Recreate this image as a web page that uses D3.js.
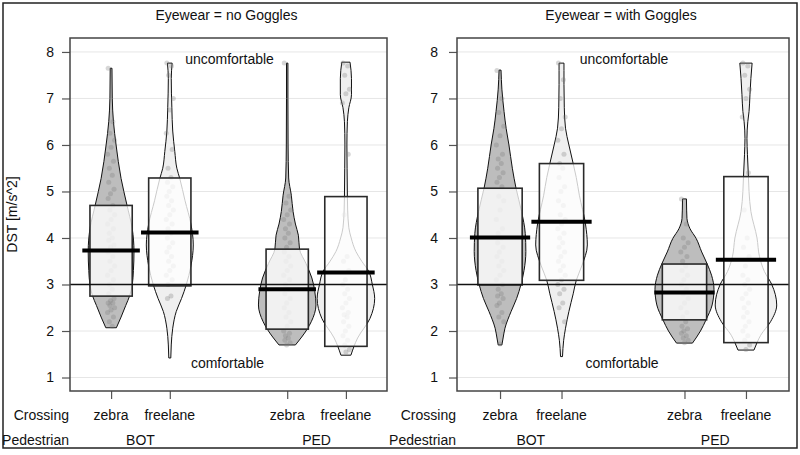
<!DOCTYPE html>
<html><head><meta charset="utf-8">
<script src="https://cdn.jsdelivr.net/npm/d3@7"></script>
<style>body{margin:0;background:#fff}text{font-family:"Liberation Sans",Arial,sans-serif;fill:#111}</style>
</head><body><svg id="c" width="800" height="455"></svg>
<script>
// ---- data ----
const panels = ["Eyewear = no Goggles", "Eyewear = with Goggles"];
const crossings = ["zebra", "freelane", "zebra", "freelane"];
const pedestrians = ["BOT", "PED"];
const groupPos = [1, 2, 4, 5];
const yTicks = [1, 2, 3, 4, 5, 6, 7, 8];
const refValue = 3;

const meansNo = [3.73, 4.12, 2.90, 3.26];
const meansWith = [4.01, 4.35, 2.83, 3.53];
const infLowNo = [2.75, 2.97, 2.04, 1.67];
const infHighNo = [4.70, 5.29, 3.76, 4.89];
const infLowWith = [2.99, 3.09, 2.24, 1.75];
const infHighWith = [5.07, 5.60, 3.44, 5.32];

// bean density profiles: [value, relative half-density]
const beanNo = [
  [[2.07,0.09],[2.3,0.17],[2.55,0.25],[2.77,0.32],[2.99,0.36],[3.3,0.38],[3.71,0.39],[4.2,0.36],[4.71,0.27],[5.28,0.17],[6.0,0.085],[6.5,0.04],[7.0,0.02],[7.65,0.015]],
  [[1.42,0.017],[1.7,0.025],[2.06,0.05],[2.42,0.11],[2.7,0.20],[2.99,0.28],[3.4,0.36],[3.85,0.40],[4.3,0.36],[4.8,0.26],[5.28,0.17],[5.5,0.12],[5.86,0.085],[6.3,0.05],[6.8,0.035],[7.43,0.025],[7.76,0.04]],
  [[1.70,0.14],[2.04,0.34],[2.2,0.41],[2.56,0.49],[2.85,0.47],[3.14,0.42],[3.45,0.32],[3.76,0.21],[4.06,0.19],[4.3,0.14],[4.57,0.10],[4.92,0.07],[5.29,0.025],[6.0,0.015],[7.0,0.012],[7.76,0.012]],
  [[1.48,0.085],[1.85,0.20],[2.27,0.41],[2.70,0.49],[3.0,0.45],[3.28,0.39],[3.5,0.27],[3.71,0.17],[4.0,0.09],[4.22,0.05],[4.6,0.03],[4.89,0.025],[5.5,0.02],[6.0,0.017],[6.5,0.025],[6.8,0.05],[7.08,0.095],[7.43,0.095],[7.78,0.07]]
];
const beanWith = [
  [[1.70,0.03],[1.85,0.05],[2.06,0.08],[2.42,0.18],[2.7,0.27],[3.0,0.34],[3.3,0.39],[3.71,0.42],[4.1,0.41],[4.57,0.35],[5.07,0.26],[5.5,0.2],[6.0,0.145],[6.35,0.1],[6.72,0.065],[7.2,0.03],[7.61,0.016]],
  [[1.45,0.016],[1.8,0.035],[2.06,0.065],[2.42,0.12],[2.8,0.19],[3.09,0.24],[3.4,0.33],[3.85,0.42],[4.3,0.39],[4.92,0.29],[5.3,0.24],[5.6,0.19],[6.0,0.12],[6.36,0.065],[6.8,0.045],[7.3,0.04],[7.6,0.04],[7.76,0.04]],
  [[1.74,0.13],[2.0,0.26],[2.24,0.35],[2.56,0.45],[2.9,0.48],[3.2,0.44],[3.44,0.37],[3.7,0.28],[3.99,0.19],[4.2,0.09],[4.42,0.04],[4.6,0.035],[4.84,0.032]],
  [[1.59,0.13],[1.75,0.18],[1.91,0.24],[2.2,0.40],[2.56,0.50],[3.0,0.42],[3.28,0.30],[3.6,0.22],[4.0,0.18],[4.57,0.08],[5.0,0.05],[5.32,0.04],[5.79,0.024],[6.14,0.016],[6.5,0.03],[6.72,0.05],[7.08,0.065],[7.43,0.08],[7.76,0.10]]
];

const pointsNo = [
  [7.65,6.5,6.25,6.1,5.95,5.8,5.65,5.5,5.35,5.2,5.05,4.95,4.85,4.7,4.6,4.5,4.4,4.3,4.2,4.1,4.0,3.95,3.85,3.8,3.7,3.6,3.5,3.4,3.3,3.2,3.1,3.0,2.9,2.8,2.7,2.65,2.6,2.6,2.55,2.5,2.45,2.4,2.3,2.2,2.1],
  [7.76,7.7,7.5,7.0,6.75,6.25,5.9,5.5,5.3,5.2,5.1,5.0,4.9,4.8,4.7,4.6,4.5,4.4,4.3,4.2,4.1,4.0,3.9,3.8,3.7,3.6,3.5,3.4,3.3,3.2,3.1,3.0,2.75,2.7],
  [7.76,4.9,4.75,4.6,4.5,4.4,4.3,4.2,4.1,4.0,3.9,3.8,3.7,3.6,3.5,3.4,3.3,3.2,3.1,3.0,2.9,2.8,2.7,2.6,2.5,2.4,2.3,2.2,2.1,2.0,1.95,1.9,1.85,1.8,1.75,1.7],
  [7.76,7.7,7.5,7.2,7.1,6.9,5.8,4.5,3.6,3.5,3.3,3.1,3.0,2.9,2.8,2.7,2.6,2.5,2.4,2.35,2.3,2.2,2.1,2.0,1.9,1.8,1.7,1.6,1.55]
];
const pointsWith = [
  [7.6,7.0,6.7,6.4,6.2,6.0,5.8,5.7,5.6,5.5,5.4,5.3,5.2,5.1,4.9,4.8,4.6,4.4,4.2,4.1,4.0,3.9,3.8,3.7,3.6,3.5,3.4,3.3,3.2,3.1,3.0,2.9,2.8,2.75,2.7,2.6,2.55,2.4,2.3,2.2,1.72],
  [7.76,7.4,7.0,6.6,6.35,6.1,5.8,5.6,5.5,5.3,5.1,5.0,4.8,4.7,4.5,4.4,4.3,4.2,4.1,4.0,3.9,3.8,3.7,3.6,3.5,3.4,3.3,3.2,3.1,3.0,2.9,2.8,2.6,2.5,2.2],
  [4.84,4.3,4.0,3.9,3.8,3.7,3.6,3.5,3.4,3.3,3.2,3.1,3.0,2.9,2.8,2.7,2.6,2.5,2.4,2.3,2.2,2.1,2.05,2.0,1.95,1.9,1.85,1.8,1.75],
  [7.76,7.7,7.5,7.2,7.0,6.6,5.4,4.6,4.0,3.8,3.6,3.4,3.2,3.1,3.0,2.9,2.8,2.7,2.6,2.5,2.4,2.3,2.2,2.1,2.0,1.9,1.8,1.7,1.6]
];

const panelData = [
  {title: panels[0], means: meansNo, lo: infLowNo, hi: infHighNo, beans: beanNo, pts: pointsNo},
  {title: panels[1], means: meansWith, lo: infLowWith, hi: infHighWith, beans: beanWith, pts: pointsWith}
];

// ---- layout / style ----
const frames = [{l: 70, r: 387}, {l: 457, r: 789}];
const plotTop = 38, plotBottom = 391;
const jitter = [-0.05, 0.03, -0.02, 0.06, 0.0, -0.06, 0.04, -0.03, 0.02, -0.04, 0.05, -0.01];
const beanFill = ["#bdbdbd", "#efefef", "#bdbdbd", "#efefef"];

const svg = d3.select("#c");
svg.append("rect").attr("x", 3).attr("y", 3).attr("width", 794).attr("height", 445)
  .attr("fill", "none").attr("stroke", "#222").attr("stroke-width", 1.5);

const y = d3.scaleLinear().domain([0.71, 8.30]).range([plotBottom, plotTop]);

panelData.forEach((P, pi) => {
  const f = frames[pi];
  const x = d3.scaleLinear().domain([0.3, 5.7]).range([f.l, f.r]);
  const g = svg.append("g");
  const cx = (f.l + f.r) / 2;

  g.append("text").attr("x", cx - 2).attr("y", 20).attr("text-anchor", "middle")
    .attr("font-size", 14).text(P.title);

  // grid
  g.selectAll(".grid").data(yTicks).join("line")
    .attr("x1", f.l).attr("x2", f.r).attr("y1", d => y(d)).attr("y2", d => y(d))
    .attr("stroke", "#e6e6e6").attr("stroke-width", 1);

  // y axis
  const ya = g.append("g").attr("transform", `translate(${f.l},0)`)
    .call(d3.axisLeft(y).tickValues(yTicks).tickSize(8).tickPadding(pi === 0 ? 8 : 11).tickFormat(d3.format("d")));
  ya.select(".domain").remove();
  ya.selectAll("line").attr("stroke", "#555").attr("stroke-width", 1.2);
  ya.selectAll("text").attr("font-size", 14).attr("font-family", '"Liberation Sans",Arial,sans-serif').attr("fill", "#111");

  // x axis ticks
  const xa = g.append("g").attr("transform", `translate(0,${plotBottom})`)
    .call(d3.axisBottom(x).tickValues(groupPos).tickSize(8).tickFormat(""));
  xa.select(".domain").remove();
  xa.selectAll("line").attr("stroke", "#555").attr("stroke-width", 1.2);

  // crossing labels
  g.selectAll(".cl").data(groupPos).join("text")
    .attr("x", d => x(d)).attr("y", 420).attr("text-anchor", "middle").attr("font-size", 14)
    .text((d, i) => crossings[i]);
  g.selectAll(".pl").data(pedestrians).join("text")
    .attr("x", (d, i) => x((groupPos[i * 2] + groupPos[i * 2 + 1]) / 2)).attr("y", 445)
    .attr("text-anchor", "middle").attr("font-size", 14).text(d => d);
  g.append("text").attr("x", f.l - 1).attr("y", 420).attr("text-anchor", "end").attr("font-size", 14).text("Crossing");
  g.append("text").attr("x", f.l - 1).attr("y", 445).attr("text-anchor", "end").attr("font-size", 14).text("Pedestrian");

  // beans
  groupPos.forEach((pos, i) => {
    const area = d3.area().curve(d3.curveMonotoneY)
      .y(d => y(d[0])).x0(d => x(pos - d[1])).x1(d => x(pos + d[1]));
    g.append("path").attr("d", area(P.beans[i])).attr("fill", beanFill[i])
      .attr("stroke", "#111").attr("stroke-width", 1);
  });
  // points
  groupPos.forEach((pos, i) => {
    g.selectAll(null).data(P.pts[i]).join("circle")
      .attr("cx", (d, k) => x(pos + jitter[k % jitter.length]))
      .attr("cy", d => y(d)).attr("r", 2.5)
      .attr("fill", "#7a7a7a").attr("fill-opacity", 0.3);
  });
  // inference boxes
  groupPos.forEach((pos, i) => {
    g.append("rect").attr("x", x(pos - 0.36)).attr("width", x(pos + 0.36) - x(pos - 0.36))
      .attr("y", y(P.hi[i])).attr("height", y(P.lo[i]) - y(P.hi[i]))
      .attr("fill", "#fff").attr("fill-opacity", 0.78)
      .attr("stroke", "#2a2a2a").attr("stroke-width", 1.6);
  });
  // reference line
  g.append("line").attr("x1", f.l).attr("x2", f.r).attr("y1", y(refValue)).attr("y2", y(refValue))
    .attr("stroke", "#111").attr("stroke-width", 1.5);
  // means
  groupPos.forEach((pos, i) => {
    g.append("line").attr("x1", x(pos - 0.49)).attr("x2", x(pos + 0.49))
      .attr("y1", y(P.means[i])).attr("y2", y(P.means[i]))
      .attr("stroke", "#000").attr("stroke-width", 4);
  });

  // annotations
  g.append("text").attr("x", cx + 1).attr("y", 64).attr("text-anchor", "middle").attr("font-size", 14).text("uncomfortable");
  g.append("text").attr("x", cx - 1).attr("y", 368).attr("text-anchor", "middle").attr("font-size", 14).text("comfortable");

  // frame
  g.append("rect").attr("x", f.l).attr("y", plotTop).attr("width", f.r - f.l).attr("height", plotBottom - plotTop)
    .attr("fill", "none").attr("stroke", "#444").attr("stroke-width", 1.5);
});

svg.append("text").attr("transform", `translate(17,${(plotTop + plotBottom) / 2}) rotate(-90)`)
  .attr("text-anchor", "middle").attr("font-size", 14).text("DST [m/s^2]");
</script></body></html>
